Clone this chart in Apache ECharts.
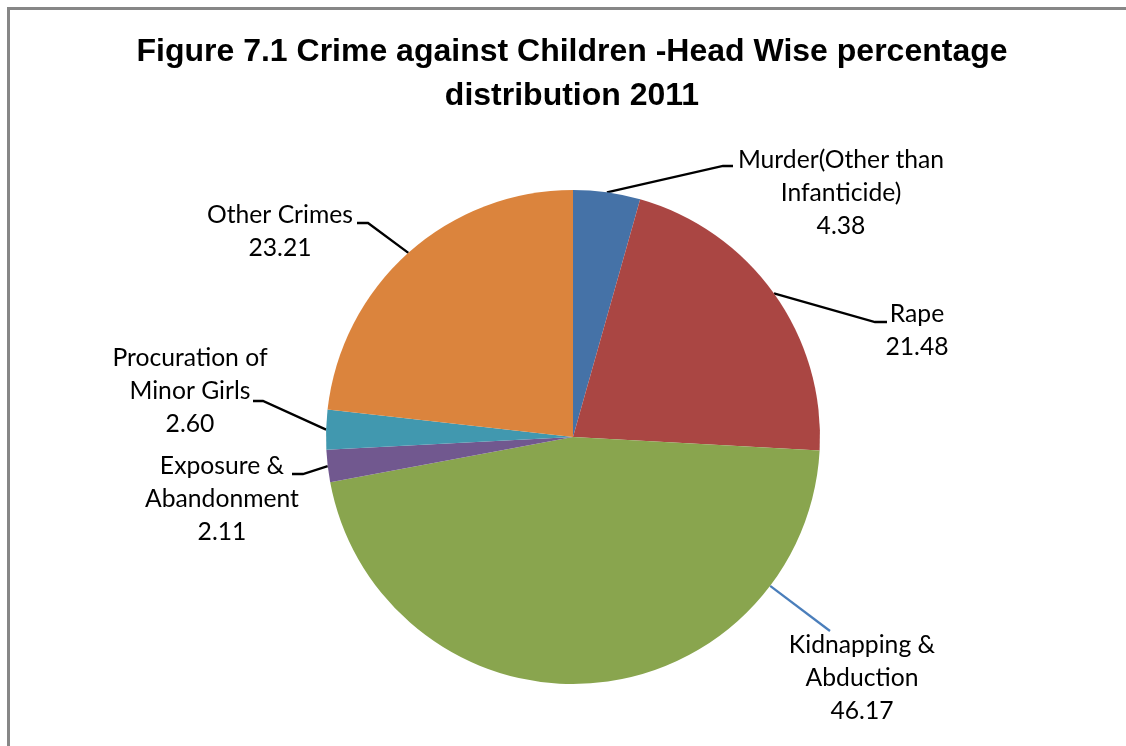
<!DOCTYPE html>
<html><head><meta charset="utf-8">
<script src="https://cdn.jsdelivr.net/npm/echarts@6/dist/echarts.min.js"></script>
<style>html,body{margin:0;padding:0;background:#fff}#c{width:1126px;height:746px}</style>
</head><body><div id="c"></div>
<script>
// ---- data ----
const categories = ['Murder(Other than Infanticide)', 'Rape', 'Kidnapping & Abduction', 'Exposure & Abandonment', 'Procuration of Minor Girls', 'Other Crimes'];
const labelTexts = ['Murder(Other than\nInfanticide)', 'Rape', 'Kidnapping &\nAbduction', 'Exposure &\nAbandonment', 'Procuration of\nMinor Girls', 'Other Crimes'];
const values = [4.38, 21.48, 46.17, 2.11, 2.60, 23.21];
const titleText = 'Figure 7.1 Crime against Children -Head Wise percentage\ndistribution 2011';

// ---- style / layout ----
const colors = ['#4572A7', '#AA4643', '#89A54E', '#71588F', '#4198AF', '#DB843D'];
const CX = 573, CY = 437, R = 247;
const labelPos = [[841, 193], [917, 331], [862, 678], [222, 499], [190, 391], [280, 232]];
const elbow = [[723, 166], [875, 322], [830, 631], [303, 474], [263, 401], [368, 223]];
const lineEnd = [[733, 166], [887, 322], [830, 631], [292, 474], [253, 401], [357, 223]];
const fromDirection = [false, false, true, false, false, false];
const lineColors = ['#000', '#000', '#4A7EBB', '#000', '#000', '#000'];

const total = values.reduce((a, b) => a + b, 0);
const midFrac = [];
let acc = 0;
values.forEach(v => { midFrac.push((acc + v / 2) / total); acc += v; });

const chart = echarts.init(document.getElementById('c'), null, { renderer: 'canvas' });
chart.setOption({
  animation: false,
  backgroundColor: '#fff',
  graphic: [
    { type: 'rect', shape: { x: 8.5, y: 8.5, width: 1300, height: 900 }, style: { fill: null, stroke: '#878787', lineWidth: 3 }, silent: true },
    { type: 'text', x: 572, y: 30, style: { text: titleText, textAlign: 'center', textVerticalAlign: 'top', font: 'bold 32px "Liberation Sans", Arial, sans-serif', lineHeight: 44, fill: '#000' }, silent: true }
  ],
  series: [{
    type: 'pie',
    center: [CX, CY],
    radius: R,
    startAngle: 90,
    clockwise: true,
    avoidLabelOverlap: false,
    silent: true,
    data: categories.map((c, i) => ({
      name: c,
      value: values[i],
      itemStyle: { color: colors[i] },
      labelLine: { lineStyle: { color: lineColors[i] } }
    })),
    label: {
      show: true,
      position: 'outside',
      formatter: p => labelTexts[p.dataIndex] + '\n' + values[p.dataIndex].toFixed(2),
      fontFamily: 'Lato, "Open Sans", sans-serif',
      fontSize: 24.7,
      lineHeight: 33,
      color: '#000',
      align: 'center'
    },
    labelLine: { show: true, length: 20, length2: 10, smooth: false, lineStyle: { width: 2.3, color: '#000' } },
    labelLayout: function (p) {
      const i = p.dataIndex;
      let start;
      if (fromDirection[i]) {
        const dx = elbow[i][0] - CX, dy = elbow[i][1] - CY, d = Math.hypot(dx, dy);
        start = [CX + R * dx / d, CY + R * dy / d];
      } else {
        const a = 2 * Math.PI * midFrac[i];
        start = [CX + R * Math.sin(a), CY - R * Math.cos(a)];
      }
      return {
        x: labelPos[i][0], y: labelPos[i][1], align: 'center', verticalAlign: 'middle',
        labelLinePoints: [start, elbow[i], lineEnd[i]]
      };
    }
  }]
});
</script></body></html>
